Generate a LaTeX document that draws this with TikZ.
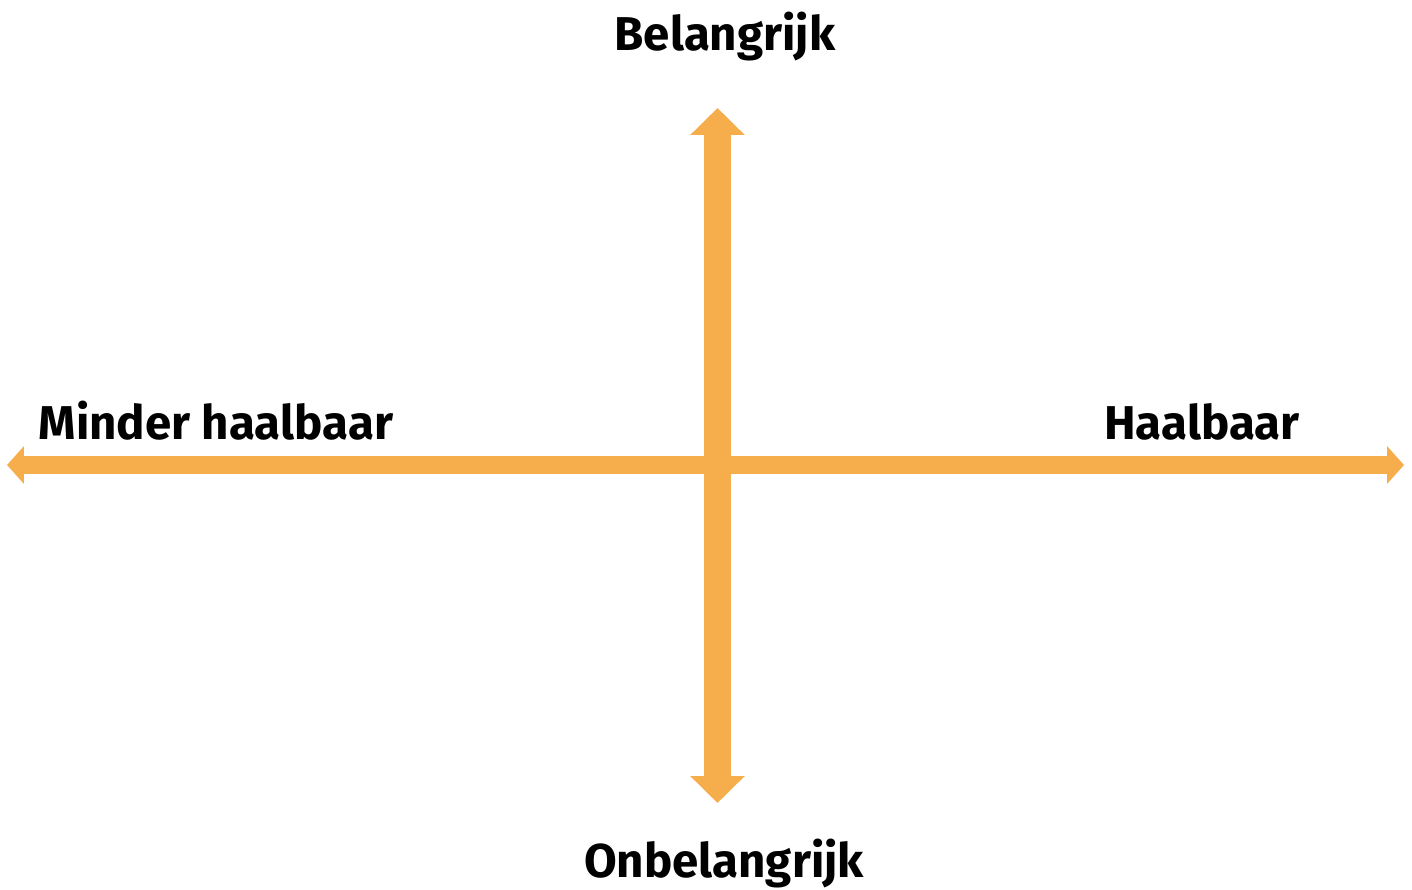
\documentclass[tikz,border=0pt]{standalone}
\usepackage{fontspec}
\setmainfont{Fira Sans}
\usepackage{tikz}
\usetikzlibrary{arrows.meta}
\definecolor{asoranje}{RGB}{246,174,77}

\begin{document}
\begin{tikzpicture}[
    x=0.02cm, y=-0.02cm,
    label/.style={font=\fontsize{27}{29}\selectfont\bfseries, anchor=base, inner sep=0pt},
    aslijn/.style={asoranje, line width=#1},
    verticaal/.style={aslijn=0.54cm, {Triangle[length=0.54cm, width=1.06cm]}-{Triangle[length=0.54cm, width=1.06cm]}},
    horizontaal/.style={aslijn=0.36cm, {Triangle[length=0.34cm, width=0.74cm]}-{Triangle[length=0.34cm, width=0.74cm]}}
  ]
    \useasboundingbox (0,0) rectangle (1412,889);
    \coordinate (boven) at (717.5,108);
    \coordinate (onder) at (717.5,803);
    \coordinate (links) at (7,465);
    \coordinate (rechts) at (1404,465);
    \draw[horizontaal] (links) -- (rechts);
    \draw[verticaal] (boven) -- (onder);
    \node[label] (belangrijk) at (725,51) {Belangrijk};
    \node[label] (onbelangrijk) at (724,877) {Onbelangrijk};
    \node[label] (minder) at (216,439) {Minder haalbaar};
    \node[label] (haalbaar) at (1202,439) {Haalbaar};
  \end{tikzpicture}
\end{document}
